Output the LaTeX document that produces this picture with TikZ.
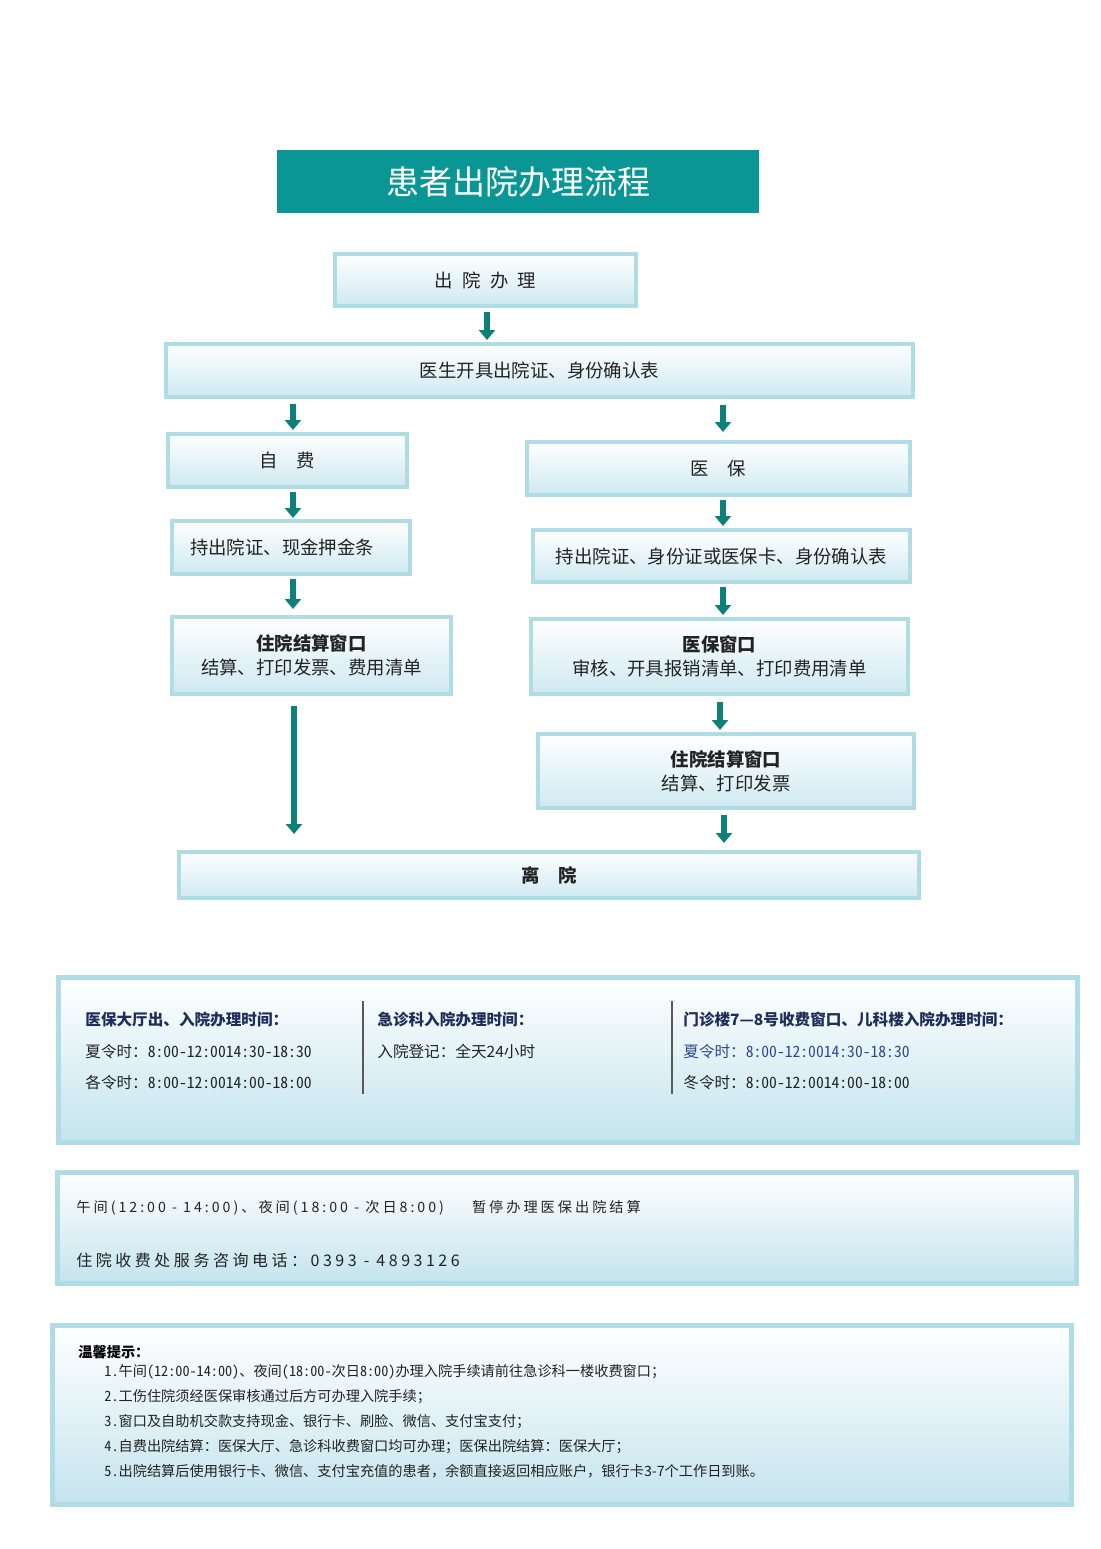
\documentclass[tikz,border=0pt]{standalone}
\usepackage{fontspec}
\setmainfont{Noto Sans CJK SC}
\newfontfamily\hwfont{Noto Sans CJK SC}[RawFeature=+hwid]
\newfontfamily\spacedfont{Noto Sans CJK SC}[LetterSpace=21]
\newfontfamily\widefont{Noto Sans CJK SC}[LetterSpace=22]
\newcommand{\hw}[1]{{\hwfont #1}}
\usetikzlibrary{arrows.meta,positioning,calc}
\definecolor{titleteal}{RGB}{10,150,148}
\definecolor{arrowteal}{RGB}{14,128,122}
\definecolor{boxline}{RGB}{176,220,230}
\definecolor{boxfill}{RGB}{206,233,241}
\definecolor{panelfill}{RGB}{196,228,237}
\definecolor{navy}{RGB}{31,45,90}
\definecolor{summerblue}{RGB}{50,72,140}
\definecolor{txt}{RGB}{35,35,35}
\newcommand{\titlefont}{\fontsize{16.5}{20}\selectfont}
\newcommand{\boxfont}{\fontsize{9.2}{12}\selectfont}
\newcommand{\hourfont}{\fontsize{7.8}{10}\selectfont}
\newcommand{\tipfont}{\fontsize{7.1}{9}\selectfont}

\begin{document}
\begin{tikzpicture}[x=0.5pt,y=-0.5pt,
  box/.style={draw=boxline,line width=2pt,top color=white,bottom color=boxfill,
    inner sep=0pt,align=center,font=\boxfont,text=txt},
  panel/.style={draw=boxline,line width=2.5pt,top color=white,bottom color=panelfill,inner sep=0pt},
  arr/.style={draw=arrowteal,line width=3pt,-{Triangle[length=5pt,width=8pt]}},
  label/.style={anchor=base west,inner sep=0pt,text=txt},
  divider/.style={draw=black!65,line width=0.9pt}]
\useasboundingbox (0,0) rectangle (1100,1549);

% title bar
\node[fill=titleteal,minimum width=241pt,minimum height=31.5pt,text=white,font=\titlefont]
  (title) at (518,181.5) {患者出院办理流程};

% flow boxes
\node[box,minimum width=150.5pt,minimum height=26pt] (start) at (485.5,280)
  {出\enspace 院\enspace 办\enspace 理};
\node[box,minimum width=373.5pt,minimum height=26.5pt] (cert) at (539.5,370.5)
  {医生开具出院证、身份确认表};
\node[box,minimum width=119.5pt,minimum height=26.5pt] (self) at (287.5,460.5) {自\quad 费};
\node[box,minimum width=191.5pt,minimum height=26.5pt] (insur) at (718.5,468.5) {医\quad 保};
\node[box,text width=101pt,inner xsep=9pt,align=left,minimum height=26.5pt] (selfdoc) at (291,547.5)
  {持出院证、现金押金条};
\node[box,minimum width=188.5pt,minimum height=26pt] (insurdoc) at (721.5,556)
  {持出院证、身份证或医保卡、身份确认表};
\node[box,minimum width=139.5pt,minimum height=38.5pt] (selfpay) at (311.5,655.5)
  {\textbf{住院结算窗口}\\结算、打印发票、费用清单};
\node[box,minimum width=188.5pt,minimum height=37.5pt] (insurwin) at (719.5,656.5)
  {\textbf{医保窗口}\\审核、开具报销清单、打印费用清单};
\node[box,minimum width=188pt,minimum height=37pt] (insurpay) at (726,771)
  {\textbf{住院结算窗口}\\结算、打印发票};
\node[box,minimum width=370pt,minimum height=23pt] (leave) at (549,875) {\textbf{离\quad 院}};

% arrows
\draw[arr] ($(start.south)+(1.5,4)$) -- ($(cert.north)+(-52.5,-2)$);
\draw[arr] ($(self.north |- cert.south)+(5.5,5)$) -- ($(self.north)+(5.5,-2)$);
\draw[arr] ($(insur.north |- cert.south)+(4.5,6)$) -- ($(insur.north)+(4.5,-8)$);
\draw[arr] ($(self.south)+(5.5,3)$) -- ($(selfdoc.north)+(2,-1)$);
\draw[arr] ($(insur.south)+(4.5,3)$) -- ($(insurdoc.north)+(1.5,-2)$);
\draw[arr] ($(selfdoc.south)+(2,3)$) -- ($(selfpay.north)+(-18.5,-6)$);
\draw[arr] ($(insurdoc.south)+(1.5,3)$) -- ($(insurwin.north)+(3.5,-2)$);
\draw[arr] ($(selfpay.south)+(-17.5,10)$) -- ($(leave.north)+(-255,-16)$);
\draw[arr] ($(insurwin.south)+(0.5,6)$) -- ($(insurpay.north)+(-6,-2)$);
\draw[arr] ($(insurpay.south)+(-2,5)$) -- ($(leave.north)+(175,-7)$);

% opening hours
\node[panel,minimum width=509.5pt,minimum height=82.5pt] (hours) at (567.5,1059.5) {};
\draw[divider] (363,1001) -- (363,1094);
\draw[divider] (672,1001) -- (672,1094);
\node[label,font=\hourfont\bfseries,text=navy] (hall) at (85,1025) {医保大厅出、入院办理时间：};
\node[label,font=\hourfont] (hallsum) at (85,1057) {夏令时：\hw{8:00-12:0014:30-18:30}};
\node[label,font=\hourfont] (hallwin) at (85,1088) {各令时：\hw{8:00-12:0014:00-18:00}};
\node[label,font=\hourfont\bfseries,text=navy] (emerg) at (377,1025) {急诊科入院办理时间：};
\node[label,font=\hourfont] (emergall) at (377,1057) {入院登记：全天24小时};
\node[label,font=\hourfont\bfseries,text=navy] (clinic) at (683,1025) {门诊楼7—8号收费窗口、儿科楼入院办理时间：};
\node[label,font=\hourfont,text=summerblue] (clinicsum) at (683,1057) {夏令时：\hw{8:00-12:0014:30-18:30}};
\node[label,font=\hourfont] (clinicwin) at (683,1088) {冬令时：\hw{8:00-12:0014:00-18:00}};

% pause notice
\node[panel,minimum width=509.5pt,minimum height=55.5pt] (pause) at (566.5,1227.5) {};
\node[label,font=\spacedfont\fontsize{7.1}{9}\selectfont] (pausetxt) at (76,1212)
  {午间(12:00 - 14:00)、夜间(18:00 - 次日8:00)\hspace{14pt}暂停办理医保出院结算};
\node[label,font=\widefont\fontsize{8}{10}\selectfont] (phone) at (76,1266)
  {住院收费处服务咨询电话：0393 - 4893126};

% tips
\node[panel,minimum width=509.5pt,minimum height=89.5pt] (tips) at (561.5,1414.5) {};
\node[label,font=\tipfont\bfseries,text=black] (tiphead) at (78,1357) {温馨提示：};
\foreach \i/\t in {1/{\hw{1.}午间\hw{(12:00-14:00)}、夜间\hw{(18:00-}次日\hw{8:00)}办理入院手续请前往急诊科一楼收费窗口；},
  2/{\hw{2.}工伤住院须经医保审核通过后方可办理入院手续；},
  3/{\hw{3.}窗口及自助机交款支持现金、银行卡、刷脸、微信、支付宝支付；},
  4/{\hw{4.}自费出院结算：医保大厅、急诊科收费窗口均可办理；医保出院结算：医保大厅；},
  5/{\hw{5.}出院结算后使用银行卡、微信、支付宝充值的患者，余额直接返回相应账户，银行卡3-7个工作日到账。}}
  \node[label,font=\tipfont] (tip\i) at (104,1351+25*\i) {\t};
\end{tikzpicture}
\end{document}
